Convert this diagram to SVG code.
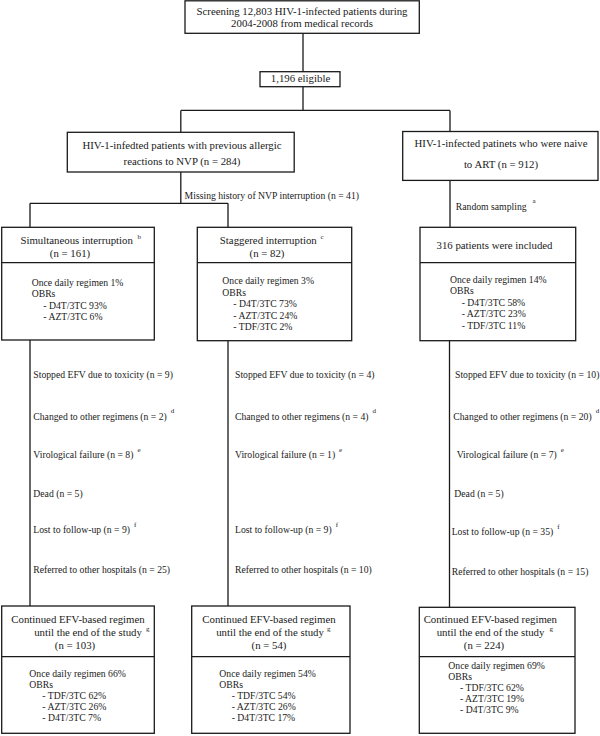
<svg xmlns="http://www.w3.org/2000/svg" width="600" height="736" viewBox="0 0 600 736">
<style>
  .box { fill: #ffffff; stroke: #1a1a1a; stroke-width: 1.3; }
  .div { stroke: #1a1a1a; stroke-width: 1.3; }
  .con { fill: none; stroke: #1a1a1a; stroke-width: 1.3; }
  text { font-family: "Liberation Serif", "Times New Roman", serif; fill: #1a1a1a; }
  .t { font-size: 10.8px; text-anchor: middle; }
  .s { font-size: 9.7px; }
  .sup { font-size: 7px; }
</style>
<rect width="600" height="736" fill="#ffffff"/>
<g id="connectors">
  <path class="con" d="M303,33.3 V71.7 M303,86.7 V110.4 M180.8,110.4 H450 M180.8,110.4 V132.3 M450,110.4 V131.5"/>
  <path class="con" d="M180.8,172 V203.3 M30,203.3 H228 M30,203.3 V227.3 M228,203.3 V227.3"/>
  <path class="con" d="M450,180.4 V227.3"/>
  <path class="con" d="M30,340 V606 M228,340.7 V606 M449.5,340.7 V607.3"/>
</g>
<g id="screening">
  <rect class="box" x="185" y="0.8" width="234.3" height="32.5"/>
  <text class="t" x="302" y="14.6">Screening 12,803 HIV-1-infected patients during</text>
  <text class="t" x="302" y="27">2004-2008 from medical records</text>
</g>
<g id="eligible">
  <rect class="box" x="260" y="71.7" width="80" height="15"/>
  <text class="t" x="300.5" y="82">1,196 eligible</text>
</g>
<g id="allergic">
  <rect class="box" x="67.3" y="132.3" width="226.9" height="39.7"/>
  <text class="t" x="182" y="148.6">HIV-1-infedted patients with previous allergic</text>
  <text class="t" x="182" y="164.6">reactions to NVP (n = 284)</text>
</g>
<g id="naive">
  <rect class="box" x="402.7" y="131.5" width="195.3" height="48.9"/>
  <text class="t" x="501" y="146.6">HIV-1-infected patinets who were naive</text>
  <text class="t" x="501" y="167.5">to ART (n = 912)</text>
</g>
<g id="labels-top">
  <text class="s" x="184.6" y="199.2">Missing history of NVP interruption (n = 41)</text>
  <text class="s" x="455.8" y="209.6">Random sampling<tspan class="sup" dx="6" dy="-6.5">a</tspan></text>
</g>
<g id="simultaneous">
  <rect class="box" x="1.7" y="227.3" width="152.6" height="112.7"/>
  <line class="div" x1="1.7" y1="262.7" x2="154.3" y2="262.7"/>
  <text class="t" x="76.7" y="243.6">Simultaneous interruption</text>
  <text class="sup" x="137.5" y="239">b</text>
  <text class="t" x="70" y="256.9">(n = 161)</text>
  <text class="s" x="31.7" y="286">Once daily regimen 1%</text>
  <text class="s" x="31.7" y="297.3">OBRs</text>
  <text class="s" x="43.3" y="308.6">- D4T/3TC 93%</text>
  <text class="s" x="43.3" y="319.9">- AZT/3TC 6%</text>
</g>
<g id="staggered">
  <rect class="box" x="197.3" y="227.3" width="154.4" height="113.4"/>
  <line class="div" x1="197.3" y1="262.7" x2="351.7" y2="262.7"/>
  <text class="t" x="268.3" y="243.6">Staggered interruption</text>
  <text class="sup" x="320.5" y="239">c</text>
  <text class="t" x="267" y="256.9">(n = 82)</text>
  <text class="s" x="222.3" y="284">Once daily regimen 3%</text>
  <text class="s" x="222.3" y="295.5">OBRs</text>
  <text class="s" x="233.3" y="307">- D4T/3TC 73%</text>
  <text class="s" x="233.3" y="318.5">- AZT/3TC 24%</text>
  <text class="s" x="233.3" y="330">- TDF/3TC 2%</text>
</g>
<g id="included">
  <rect class="box" x="420" y="227.3" width="155.7" height="113.4"/>
  <line class="div" x1="420" y1="262.7" x2="575.7" y2="262.7"/>
  <text class="t" x="494.5" y="248.6">316 patients  were included</text>
  <text class="s" x="450" y="282.5">Once daily regimen 14%</text>
  <text class="s" x="450" y="294">OBRs</text>
  <text class="s" x="461.7" y="305.5">- D4T/3TC 58%</text>
  <text class="s" x="461.7" y="317">- AZT/3TC 23%</text>
  <text class="s" x="461.7" y="328.5">- TDF/3TC 11%</text>
</g>
<g id="outcomes-left">
  <text class="s" x="33.3" y="378.2">Stopped EFV due to toxicity (n = 9)</text>
  <text class="s" x="33.3" y="419.9">Changed to other regimens (n = 2)<tspan class="sup" dx="4" dy="-6.5">d</tspan></text>
  <text class="s" x="33.3" y="458.2">Virological failure (n = 8)<tspan class="sup" dx="4" dy="-6.5">e</tspan></text>
  <text class="s" x="33.3" y="496.5">Dead (n = 5)</text>
  <text class="s" x="33.3" y="533.2">Lost to follow-up (n = 9)<tspan class="sup" dx="4" dy="-6.5">f</tspan></text>
  <text class="s" x="33.3" y="573.2">Referred to other hospitals (n = 25)</text>
</g>
<g id="outcomes-middle">
  <text class="s" x="235" y="378.2">Stopped EFV due to toxicity (n = 4)</text>
  <text class="s" x="235" y="419.9">Changed to other regimens (n = 4)<tspan class="sup" dx="4" dy="-6.5">d</tspan></text>
  <text class="s" x="235" y="458.2">Virological failure (n = 1)<tspan class="sup" dx="4" dy="-6.5">e</tspan></text>
  <text class="s" x="235" y="533.2">Lost to follow-up (n = 9)<tspan class="sup" dx="4" dy="-6.5">f</tspan></text>
  <text class="s" x="235" y="573.2">Referred to other hospitals (n = 10)</text>
</g>
<g id="outcomes-right">
  <text class="s" x="455" y="378.2">Stopped EFV due to toxicity (n = 10)</text>
  <text class="s" x="453.3" y="419.9">Changed to other regimens (n = 20)<tspan class="sup" dx="4" dy="-6.5">d</tspan></text>
  <text class="s" x="456.7" y="458.2">Virological failure (n = 7)<tspan class="sup" dx="4" dy="-6.5">e</tspan></text>
  <text class="s" x="454.3" y="496.5">Dead (n = 5)</text>
  <text class="s" x="451.7" y="535">Lost to follow-up (n = 35)<tspan class="sup" dx="4" dy="-6.5">f</tspan></text>
  <text class="s" x="451.7" y="575">Referred to other hospitals (n = 15)</text>
</g>
<g id="continued-left">
  <rect class="box" x="1.7" y="606" width="152.6" height="127.3"/>
  <line class="div" x1="1.7" y1="656.7" x2="154.3" y2="656.7"/>
  <text class="t" x="78" y="623.3">Continued EFV-based regimen</text>
  <text class="t" x="88" y="636">until the end of the study</text>
  <text class="sup" x="146" y="630.5">g</text>
  <text class="t" x="75" y="648.7">(n = 103)</text>
  <text class="s" x="29.3" y="676.5">Once daily regimen 66%</text>
  <text class="s" x="29.3" y="687.5">OBRs</text>
  <text class="s" x="42.3" y="698.5">- TDF/3TC 62%</text>
  <text class="s" x="42.3" y="709.5">- AZT/3TC 26%</text>
  <text class="s" x="42.3" y="720.5">- D4T/3TC 7%</text>
</g>
<g id="continued-middle">
  <rect class="box" x="191.7" y="606" width="158.3" height="127.3"/>
  <line class="div" x1="191.7" y1="656.7" x2="350" y2="656.7"/>
  <text class="t" x="269" y="623.3">Continued EFV-based regimen</text>
  <text class="t" x="270" y="636">until the end of the study</text>
  <text class="sup" x="327" y="630.5">g</text>
  <text class="t" x="269" y="648.7">(n = 54)</text>
  <text class="s" x="219.3" y="676.5">Once daily regimen 54%</text>
  <text class="s" x="219.3" y="687.5">OBRs</text>
  <text class="s" x="231.7" y="698.5">- TDF/3TC 54%</text>
  <text class="s" x="231.7" y="709.5">- AZT/3TC 26%</text>
  <text class="s" x="231.7" y="720.5">- D4T/3TC 17%</text>
</g>
<g id="continued-right">
  <rect class="box" x="419.3" y="607.3" width="155.7" height="126"/>
  <line class="div" x1="419.3" y1="656.7" x2="575" y2="656.7"/>
  <text class="t" x="490.3" y="623.3">Continued EFV-based regimen</text>
  <text class="t" x="490.5" y="636">until the end of the study</text>
  <text class="sup" x="549.5" y="630.5">g</text>
  <text class="t" x="484" y="648.7">(n = 224)</text>
  <text class="s" x="448.3" y="668.5">Once daily regimen 69%</text>
  <text class="s" x="448.3" y="679.5">OBRs</text>
  <text class="s" x="460" y="690.5">- TDF/3TC 62%</text>
  <text class="s" x="460" y="701.5">- AZT/3TC 19%</text>
  <text class="s" x="460" y="712.5">- D4T/3TC 9%</text>
</g>
</svg>
